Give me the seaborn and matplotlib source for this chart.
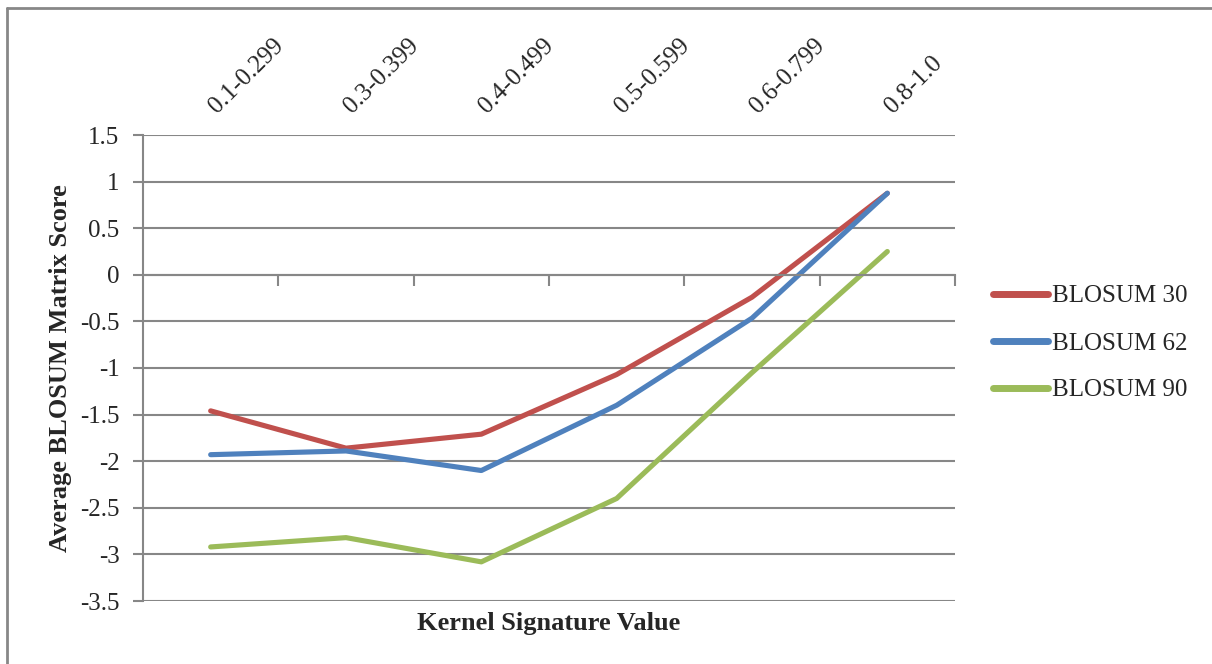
import matplotlib
matplotlib.use("Agg")
import matplotlib.pyplot as plt
from matplotlib.lines import Line2D
from matplotlib.transforms import ScaledTranslation
from matplotlib.ticker import FixedLocator
import numpy as np
import pandas as pd
import seaborn as sns

# Kernel signature bins and average BLOSUM scores per matrix
categories = ["0.1-0.299", "0.3-0.399", "0.4-0.499", "0.5-0.599", "0.6-0.799", "0.8-1.0"]
blosum30 = [-1.46, -1.86, -1.71, -1.07, -0.24, 0.875]
blosum62 = [-1.93, -1.89, -2.10, -1.40, -0.465, 0.875]
blosum90 = [-2.92, -2.82, -3.08, -2.40, -1.05, 0.25]
series_names = ["BLOSUM 30", "BLOSUM 62", "BLOSUM 90"]
y_ticks = [1.5, 1, 0.5, 0, -0.5, -1, -1.5, -2, -2.5, -3, -3.5]

pos = np.arange(len(categories))
df = pd.DataFrame({
    "pos": np.tile(pos, 3),
    "score": blosum30 + blosum62 + blosum90,
    "series": np.repeat(series_names, len(categories)),
})

sns.set_theme(style="white")
plt.rcParams["font.family"] = ["Liberation Serif", "DejaVu Serif"]
plt.rcParams["font.size"] = 18

grid_color = "#878787"
palette = {"BLOSUM 30": "#C0504D", "BLOSUM 62": "#4F81BD", "BLOSUM 90": "#9BBB59"}

fig = plt.figure(figsize=(12.12, 6.64), dpi=100)
ax = fig.add_axes([143 / 1212, 1 - 601 / 664, 812 / 1212, 466 / 664])

sns.lineplot(data=df, x="pos", y="score", hue="series", palette=palette,
             linewidth=3.7, sort=False, ax=ax, legend=True)
for ln in ax.get_lines():
    ln.set_solid_capstyle("round")
    ln.set_solid_joinstyle("round")

ax.set_xlim(-0.5, len(categories) - 0.5)
ax.set_ylim(-3.5, 1.5)

# y axis: gridlines every 0.5, outward ticks on the left spine
ax.yaxis.set_major_locator(FixedLocator(y_ticks))
ax.set_yticklabels([("%g" % v) for v in y_ticks])
ax.yaxis.grid(True, color=grid_color, linewidth=1.5)
ax.set_axisbelow(True)
ax.tick_params(axis="y", which="major", left=True, length=7, width=1.5,
               color=grid_color, pad=10, labelsize=18, direction="out")

# x axis: crosses at zero, category labels on top, boundary ticks below
for side in ["top", "right"]:
    ax.spines[side].set_visible(False)
ax.spines["left"].set_color(grid_color)
ax.spines["left"].set_linewidth(1.5)
ax.spines["bottom"].set_position(("data", 0))
ax.spines["bottom"].set_color(grid_color)
ax.spines["bottom"].set_linewidth(1.5)

ax.set_xticks(pos)
ax.set_xticklabels(categories)
ax.xaxis.set_minor_locator(FixedLocator(pos + 0.5))
ax.tick_params(axis="x", which="major", bottom=False, top=False,
               labelbottom=False, labeltop=True, labelsize=18, pad=12)
ax.tick_params(axis="x", which="minor", bottom=True, top=False,
               length=8, width=1.5, color=grid_color, direction="out")
shift = ScaledTranslation(6 / 100, -4 / 100, fig.dpi_scale_trans)
for lbl in ax.get_xticklabels():
    lbl.set_rotation(45)
    lbl.set_ha("left")
    lbl.set_va("baseline")
    lbl.set_rotation_mode("anchor")
    lbl.set_transform(lbl.get_transform() + shift)

ax.set_ylabel("Average BLOSUM Matrix Score", fontweight="bold", fontsize=19)
ax.yaxis.set_label_coords(-0.087, 0.5)
ax.set_xlabel("Kernel Signature Value", fontweight="bold", fontsize=19)
ax.xaxis.set_label_position("bottom")
ax.xaxis.set_label_coords(0.5, -0.024)
ax.xaxis.label.set_va("top")

leg = ax.legend(title=None, frameon=False, loc="upper left",
                bbox_to_anchor=(993 / 1212, 1 - 285 / 664),
                bbox_transform=fig.transFigure, fontsize=18,
                handlelength=2.2, handletextpad=0.15, labelspacing=0.98,
                borderaxespad=0, borderpad=0)
for h in leg.get_lines():
    h.set_linewidth(5)
    h.set_solid_capstyle("round")

# outer chart frame (left and top edges)
fig.add_artist(Line2D([7 / 1212, 7 / 1212], [0, 1 - 8 / 664],
                      transform=fig.transFigure, color=grid_color, linewidth=2))
fig.add_artist(Line2D([7 / 1212, 1], [1 - 8 / 664, 1 - 8 / 664],
                      transform=fig.transFigure, color=grid_color, linewidth=2))

fig.savefig("out.png", dpi=100, facecolor="white")
